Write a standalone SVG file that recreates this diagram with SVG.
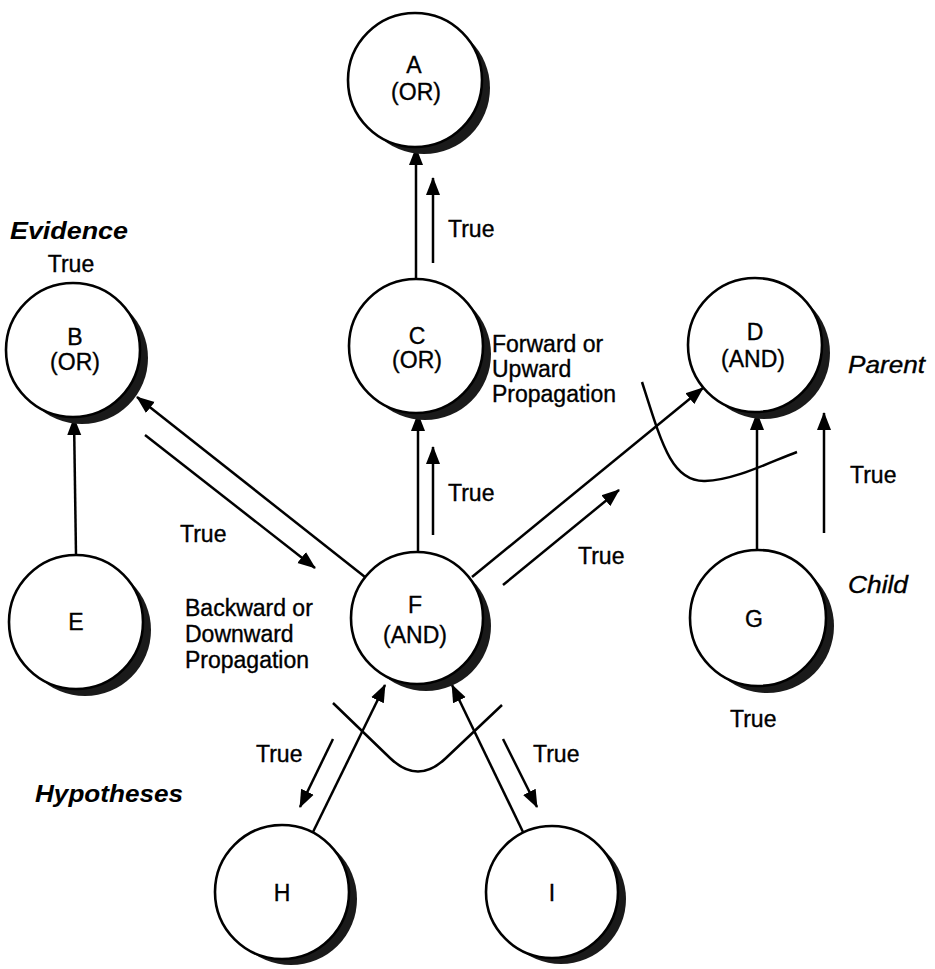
<svg xmlns="http://www.w3.org/2000/svg" width="935" height="969" viewBox="0 0 935 969">
<defs>
<marker id="ah" viewBox="0 0 18 16" markerWidth="18" markerHeight="16" refX="17" refY="8" orient="auto" markerUnits="userSpaceOnUse">
<path d="M0,1 L18,8 L0,15 z" fill="#000"/>
</marker>
</defs>
<style>
.nd{fill:#fff;stroke:#000;stroke-width:2.6}
.sd{fill:#1a1a1a}
.t{font-family:"Liberation Sans",Arial,sans-serif;font-size:23px;fill:#000;stroke:#000;stroke-width:0.35}
.c{text-anchor:middle}
.it{font-family:"Liberation Sans",Arial,sans-serif;font-size:24px;font-style:italic;fill:#000;stroke:#000;stroke-width:0.35}
.bi{font-family:"Liberation Sans",Arial,sans-serif;font-size:24px;font-style:italic;font-weight:bold;fill:#000}
.ln{stroke:#000;stroke-width:2.5;fill:none}
.ar{stroke:#000;stroke-width:2.5;fill:none;marker-end:url(#ah)}
</style>
<rect width="935" height="969" fill="#fff"/>
<g id="connectors">
<line class="ar" x1="416" y1="281" x2="416" y2="148"/>
<line class="ar" x1="418" y1="553" x2="418" y2="414"/>
<line class="ar" x1="365" y1="577" x2="137" y2="397"/>
<line class="ar" x1="76" y1="555" x2="74" y2="418"/>
<line class="ar" x1="472" y1="577" x2="703" y2="388"/>
<line class="ar" x1="757" y1="550" x2="757" y2="413"/>
<line class="ar" x1="313" y1="832" x2="385" y2="685"/>
<line class="ar" x1="523" y1="832" x2="452" y2="685"/>
<line class="ar" x1="433" y1="263" x2="433" y2="178"/>
<line class="ar" x1="433" y1="535" x2="433" y2="447"/>
<line class="ar" x1="824" y1="533" x2="824" y2="413"/>
<line class="ar" x1="145" y1="435" x2="315" y2="568"/>
<line class="ar" x1="503" y1="585" x2="619" y2="490"/>
<line class="ar" x1="333" y1="739" x2="300" y2="807"/>
<line class="ar" x1="503" y1="739" x2="537" y2="807"/>
<path class="ln" d="M333,703 L390,758 Q418,785 446,758 L502,705"/>
<path class="ln" d="M642,382 C662,445 672,482 705,481 C735,480 770,462 797,452"/>
</g>
<g id="A"><circle class="sd" cx="424" cy="88" r="66"/><circle class="nd" cx="415" cy="80" r="67"/><text class="t c" x="414" y="73">A</text><text class="t c" x="416" y="100">(OR)</text></g>
<g id="B"><circle class="sd" cx="82" cy="358" r="66"/><circle class="nd" cx="73" cy="350" r="67"/><text class="t c" x="75" y="345">B</text><text class="t c" x="75" y="370">(OR)</text></g>
<g id="C"><circle class="sd" cx="425" cy="354" r="66"/><circle class="nd" cx="416" cy="346" r="67"/><text class="t c" x="417" y="344">C</text><text class="t c" x="417" y="368">(OR)</text></g>
<g id="D"><circle class="sd" cx="764" cy="353" r="66"/><circle class="nd" cx="755" cy="345" r="67"/><text class="t c" x="755" y="340">D</text><text class="t c" x="753" y="367">(AND)</text></g>
<g id="E"><circle class="sd" cx="85" cy="630" r="66"/><circle class="nd" cx="76" cy="622" r="67"/><text class="t c" x="76" y="630">E</text></g>
<g id="F"><circle class="sd" cx="426" cy="626" r="65"/><circle class="nd" cx="417" cy="618" r="66"/><text class="t c" x="415" y="613">F</text><text class="t c" x="415" y="643">(AND)</text></g>
<g id="G"><circle class="sd" cx="767" cy="626" r="67"/><circle class="nd" cx="758" cy="618" r="68"/><text class="t c" x="754" y="627">G</text></g>
<g id="H"><circle class="sd" cx="291" cy="899" r="66"/><circle class="nd" cx="282" cy="892" r="67"/><text class="t c" x="282" y="901">H</text></g>
<g id="I"><circle class="sd" cx="561" cy="899" r="65"/><circle class="nd" cx="552" cy="892" r="66"/><text class="t c" x="552" y="901">I</text></g>
<g id="labels">
<text class="bi" x="10" y="239" textLength="118" lengthAdjust="spacingAndGlyphs">Evidence</text>
<text class="t c" x="71" y="272">True</text>
<text class="t" x="448" y="237">True</text>
<text class="t" x="492" y="352">Forward or</text>
<text class="t" x="492" y="377">Upward</text>
<text class="t" x="492" y="402">Propagation</text>
<text class="it" x="848" y="373" textLength="77" lengthAdjust="spacingAndGlyphs">Parent</text>
<text class="t" x="850" y="483">True</text>
<text class="t" x="448" y="501">True</text>
<text class="t" x="180" y="542">True</text>
<text class="t" x="578" y="564">True</text>
<text class="it" x="848" y="593" textLength="60" lengthAdjust="spacingAndGlyphs">Child</text>
<text class="t" x="185" y="616">Backward or</text>
<text class="t" x="185" y="642">Downward</text>
<text class="t" x="185" y="668">Propagation</text>
<text class="t" x="730" y="727">True</text>
<text class="t" x="256" y="762">True</text>
<text class="t" x="533" y="762">True</text>
<text class="bi" x="35" y="802" textLength="148" lengthAdjust="spacingAndGlyphs">Hypotheses</text>
</g>
</svg>
